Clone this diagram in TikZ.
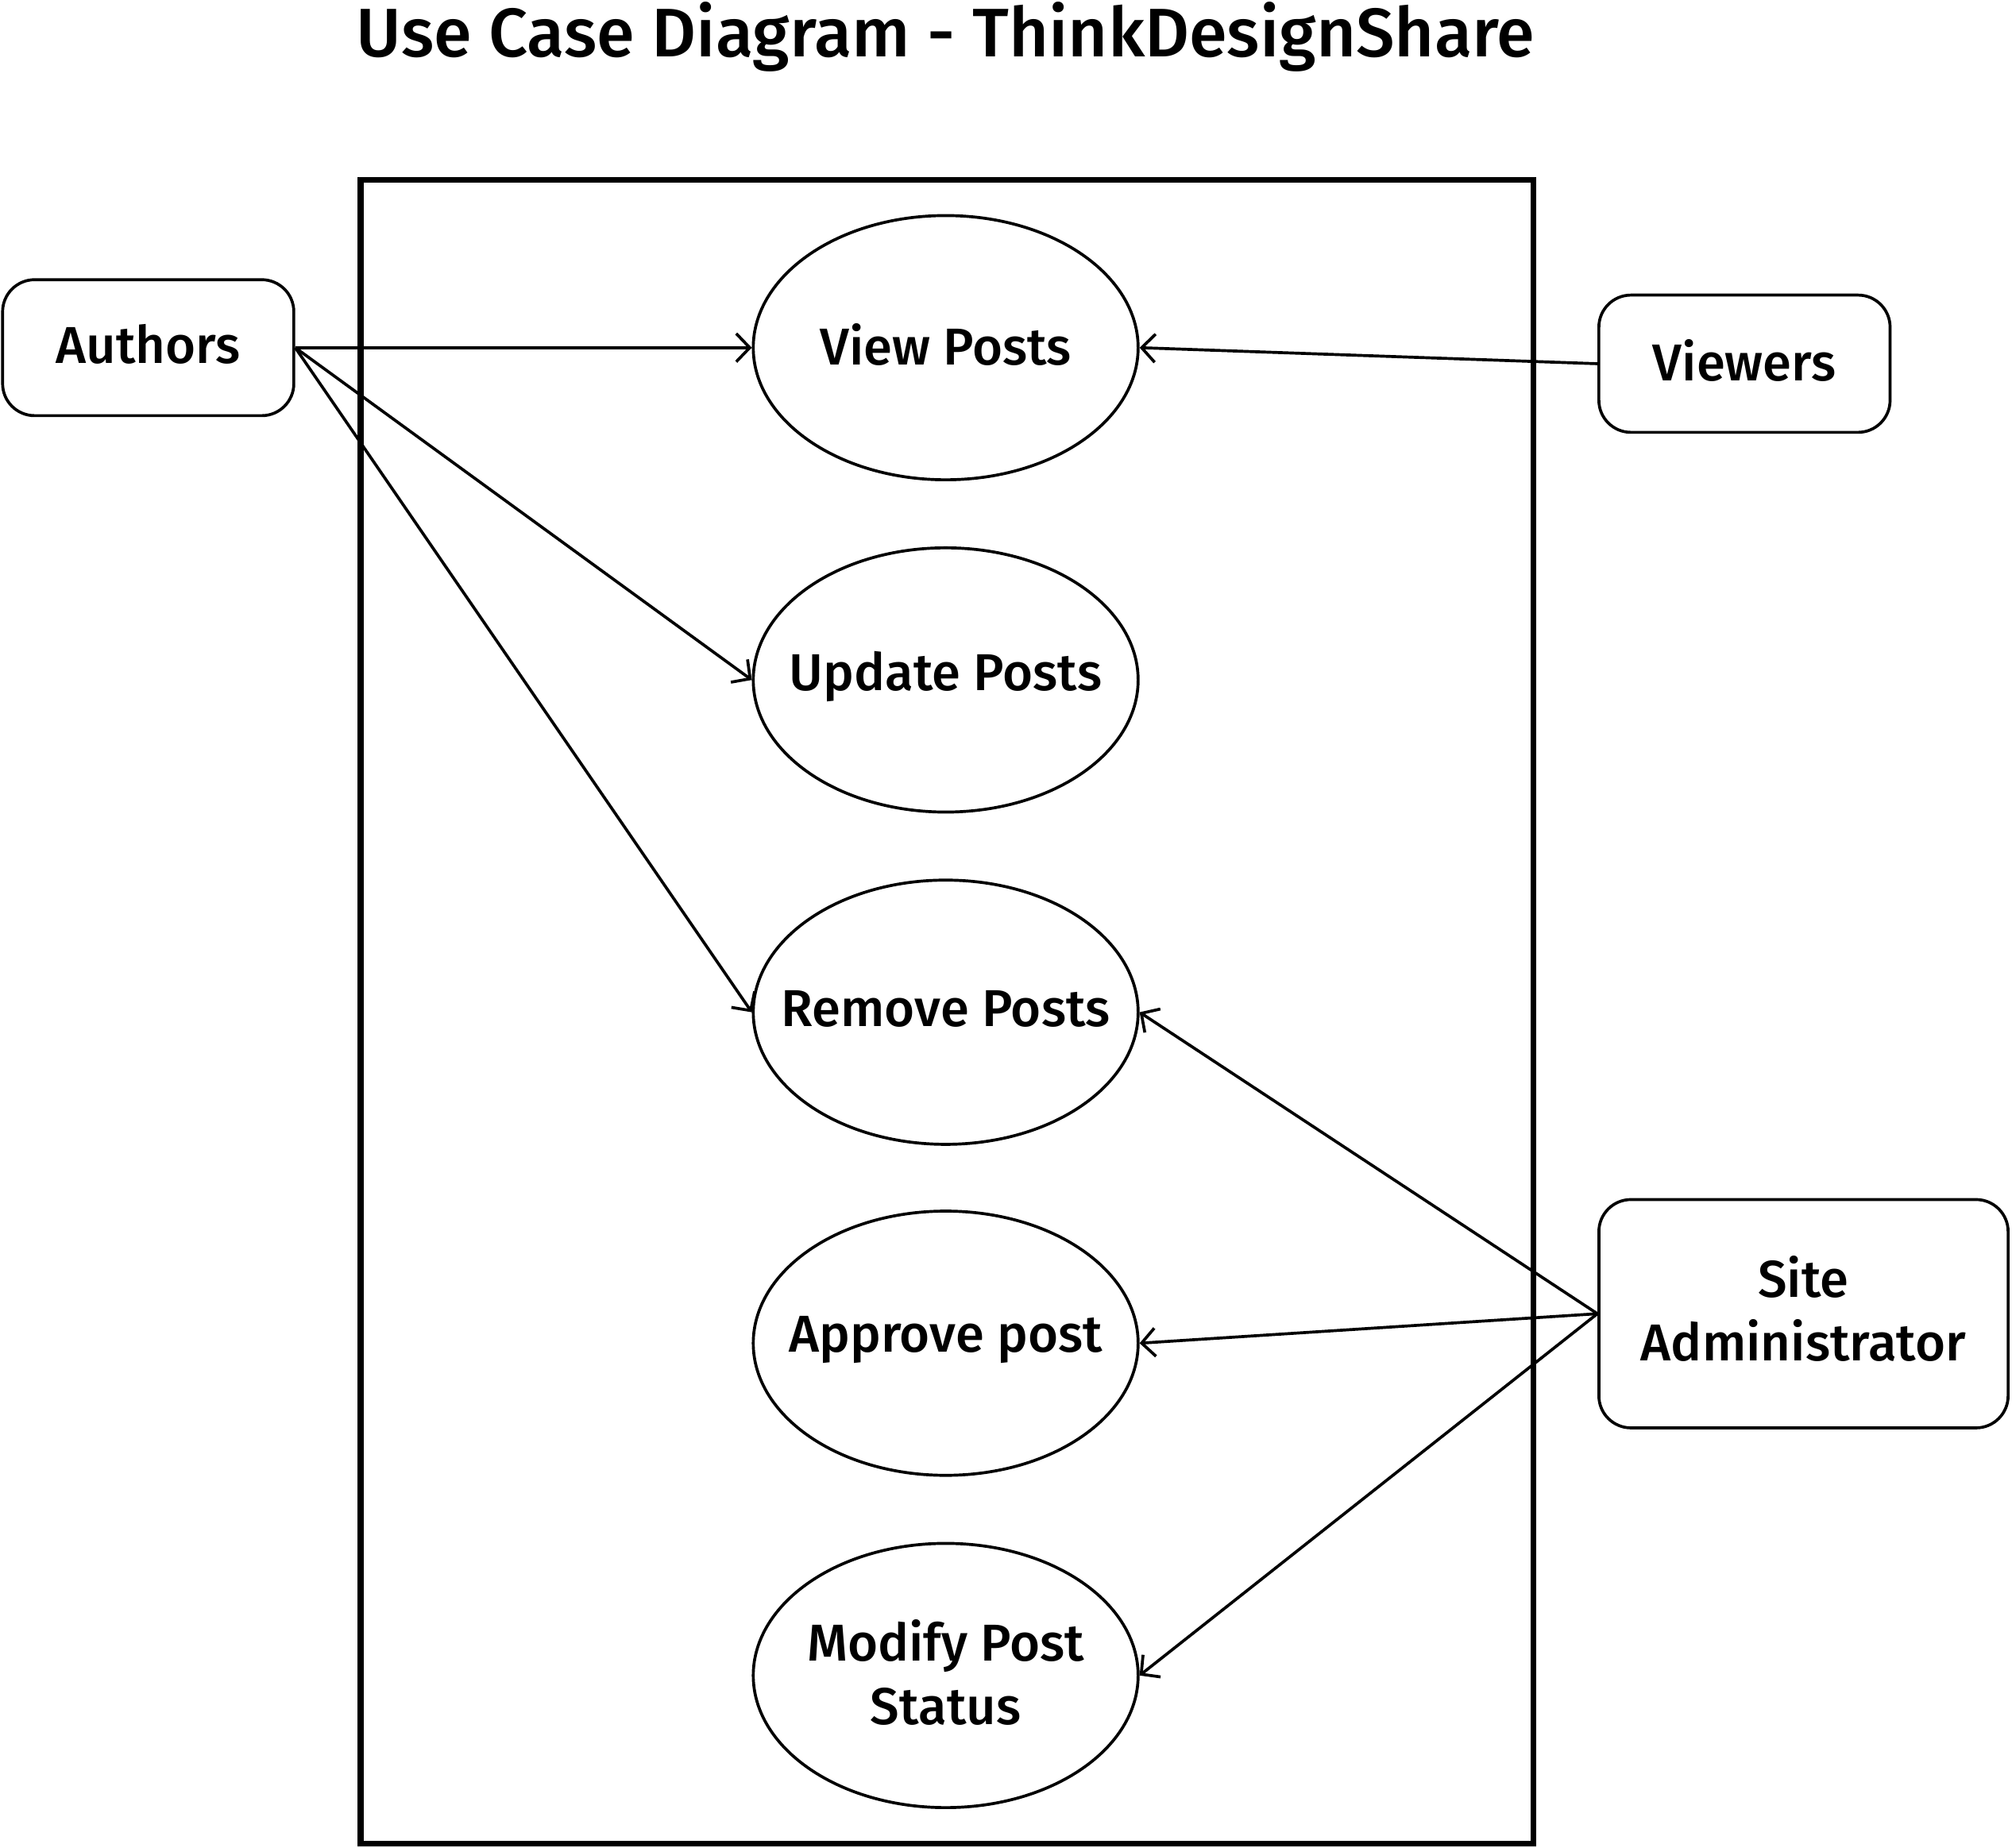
\documentclass[tikz,border=0pt]{standalone}
\usepackage{fontspec}
\setmainfont{Fira Sans Medium}
\usetikzlibrary{shapes.geometric,arrows.meta}
\begin{document}
\begin{tikzpicture}[x=0.02cm,y=-0.02cm,
  usecase/.style={draw,ellipse,line width=1.3pt,minimum width=6cm,minimum height=4.12cm,inner sep=0pt},
  actor/.style={draw,rectangle,rounded corners=0.5cm,line width=1.3pt,inner sep=0pt},
  lbl/.style={font=\fontsize{23}{28}\selectfont,align=center,yshift=0.05cm},
  assoc/.style={line width=1.3pt,-{Straight Barb[length=6pt,width=12.5pt]}}]
\useasboundingbox (0,0) rectangle (1568,1440);
\node[font=\fontsize{30.5}{36}\selectfont] (title) at (737,29) {Use Case Diagram - ThinkDesignShare};
\node[draw,line width=2.6pt,minimum width=18.28cm,minimum height=25.94cm,inner sep=0pt] (sys) at (738,788.5) {};
\node[usecase] (view) at (737,271) {};
\node[lbl] (viewt) at (view.center) {View Posts};
\node[usecase] (upd) at (737,530) {};
\node[lbl] (updt) at (upd.center) {Update Posts};
\node[usecase] (rem) at (737,789) {};
\node[lbl] (remt) at (rem.center) {Remove Posts};
\node[usecase] (appr) at (737,1047) {};
\node[lbl] (apprt) at (appr.center) {Approve post};
\node[usecase] (mod) at (737,1306) {};
\node[lbl] (modt) at (mod.center) {Modify Post\\Status};
\node[actor,minimum width=4.54cm,minimum height=2.12cm] (auth) at (115.5,271) {};
\node[lbl] (autht) at (auth.center) {Authors};
\node[actor,minimum width=4.54cm,minimum height=2.14cm] (viewers) at (1359.5,283.5) {};
\node[lbl] (viewerst) at (viewers.center) {Viewers};
\node[actor,minimum width=6.38cm,minimum height=3.56cm] (admin) at (1405.5,1024) {};
\node[lbl,yshift=0.03cm] (admint) at (admin.center) {Site\\Administrator};
\draw[assoc] (auth.east) -- (view.west);
\draw[assoc] (auth.east) -- (upd.west);
\draw[assoc] (auth.east) -- (rem.west);
\draw[assoc] (viewers.west) -- (view.east);
\draw[assoc] (admin.west) -- (rem.east);
\draw[assoc] (admin.west) -- (appr.east);
\draw[assoc] (admin.west) -- (mod.east);
\end{tikzpicture}
\end{document}
